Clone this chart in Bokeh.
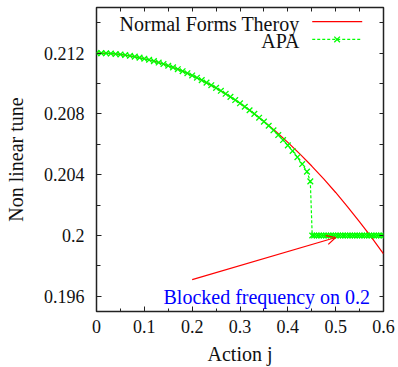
from bokeh.plotting import figure
from bokeh.models import (Range1d, LinearAxis, FixedTicker, Arrow, OpenHead,
                          Label, CustomJSTickFormatter)
from bokeh.embed import file_html
from bokeh.resources import INLINE

# Normal forms theory: tune vs action
action_nf = [0.0, 0.025, 0.05, 0.075, 0.1, 0.125, 0.15, 0.175, 0.2, 0.225,
             0.25, 0.275, 0.3, 0.325, 0.35, 0.375, 0.4, 0.425, 0.45, 0.475,
             0.5, 0.525, 0.55, 0.575, 0.6]
tune_nf = [0.21200, 0.21198, 0.21191, 0.21179, 0.21163, 0.21143, 0.21117,
           0.21088, 0.21053, 0.21014, 0.20971, 0.20923, 0.20870, 0.20812,
           0.20750, 0.20684, 0.20613, 0.20537, 0.20457, 0.20372, 0.20283,
           0.20189, 0.20090, 0.19987, 0.19879]

# APA tracking results
action_apa = [0.0, 0.01, 0.02, 0.03, 0.04, 0.05, 0.06, 0.07, 0.08, 0.09,
              0.10, 0.11, 0.12, 0.13, 0.14, 0.15, 0.16, 0.17, 0.18, 0.19,
              0.20, 0.21, 0.22, 0.23, 0.24, 0.25, 0.26, 0.27, 0.28, 0.29,
              0.30, 0.31, 0.32, 0.33, 0.34, 0.35, 0.36, 0.37, 0.38, 0.39,
              0.40, 0.41, 0.42, 0.43, 0.44, 0.447,
              0.451, 0.455, 0.46, 0.465, 0.47, 0.475, 0.48, 0.485, 0.49,
              0.495, 0.50, 0.505, 0.51, 0.515, 0.52, 0.525, 0.53, 0.535,
              0.54, 0.545, 0.55, 0.555, 0.56, 0.565, 0.57, 0.575, 0.58,
              0.585, 0.59, 0.595, 0.60]
tune_apa = [0.21200, 0.21200, 0.21199, 0.21197, 0.21194, 0.21191, 0.21187,
            0.21182, 0.21177, 0.21170, 0.21163, 0.21156, 0.21147, 0.21138,
            0.21128, 0.21117, 0.21106, 0.21094, 0.21081, 0.21068, 0.21053,
            0.21038, 0.21022, 0.21006, 0.20989, 0.20971, 0.20952, 0.20932,
            0.20912, 0.20891, 0.20870, 0.20847, 0.20824, 0.20800, 0.20775,
            0.20749, 0.20722, 0.20692, 0.20661, 0.20628, 0.20593, 0.20556,
            0.20515, 0.20470, 0.20420, 0.20356,
            0.2, 0.2, 0.2, 0.2, 0.2, 0.2, 0.2, 0.2, 0.2, 0.2, 0.2, 0.2,
            0.2, 0.2, 0.2, 0.2, 0.2, 0.2, 0.2, 0.2, 0.2, 0.2, 0.2, 0.2,
            0.2, 0.2, 0.2, 0.2, 0.2, 0.2, 0.2]

x_ticks = [0.0, 0.1, 0.2, 0.3, 0.4, 0.5, 0.6]
x_minor = [0.05, 0.15, 0.25, 0.35, 0.45, 0.55]
y_ticks = [0.196, 0.200, 0.204, 0.208, 0.212]
y_minor = [0.198, 0.202, 0.206, 0.210, 0.214]

FONT = "Liberation Serif"
RED = "#ff0000"
GREEN = "#00ff00"
INK = "#222222"

p = figure(width=398, height=367, output_backend="svg", toolbar_location=None,
           x_range=Range1d(0, 0.6), y_range=Range1d(0.195, 0.215),
           min_border_left=96, min_border_right=15, min_border_top=7,
           min_border_bottom=55)
p.grid.visible = False
p.outline_line_color = INK
p.outline_line_width = 1.5
p.background_fill_color = "white"
p.border_fill_color = "white"

label_fmt = CustomJSTickFormatter(code="""
    const s = tick.toFixed(3);
    return s.replace(/0+$/, '').replace(/\\.$/, '');
""")


def tick_style(ax):
    ax.axis_line_color = None
    ax.major_tick_out = 0
    ax.minor_tick_out = 0
    ax.major_tick_line_color = INK
    ax.minor_tick_line_color = INK


# labelled axes (bottom, left)
xa = p.xaxis[0]
ya = p.yaxis[0]
for ax in (xa, ya):
    tick_style(ax)
    ax.formatter = label_fmt
    ax.major_label_text_font = FONT
    ax.major_label_text_font_size = "18px"
    ax.major_label_text_color = "#111111"
    ax.axis_label_text_font = FONT
    ax.axis_label_text_font_size = "20px"
    ax.axis_label_text_font_style = "normal"
    ax.axis_label_text_color = "#111111"
    ax.major_tick_in = 5
xa.ticker = FixedTicker(ticks=x_ticks, minor_ticks=x_minor)
xa.minor_tick_in = 3
ya.ticker = FixedTicker(ticks=y_ticks, minor_ticks=y_minor)
ya.minor_tick_in = 4
xa.axis_label = "Action j"
ya.axis_label = "Non linear tune"
xa.major_label_standoff = 8
xa.axis_label_standoff = 7
ya.major_label_standoff = 12
ya.axis_label_standoff = 14

# mirrored tick marks (no labels) on the top and right edges
top = LinearAxis(ticker=FixedTicker(ticks=[], minor_ticks=x_ticks + x_minor))
tick_style(top)
top.minor_tick_in = 4
p.add_layout(top, "above")
right = LinearAxis(ticker=FixedTicker(ticks=[], minor_ticks=y_ticks + y_minor))
tick_style(right)
right.minor_tick_in = 4
p.add_layout(right, "right")

# curves
p.line(action_nf, tune_nf, line_color=RED, line_width=1.2)
p.line(action_apa, tune_apa, line_color=GREEN, line_width=1.2, line_dash="3 2")
p.scatter(action_apa, tune_apa, marker="x", size=8, line_color=GREEN,
          line_width=1.3)

# key in the upper right corner
key_x0, key_x1, key_xt = 0.451, 0.5555, 0.4244
p.segment([key_x0], [0.21407], [key_x1], [0.21407], line_color=RED,
          line_width=1.2)
p.segment([key_x0], [0.21290], [key_x1], [0.21290], line_color=GREEN,
          line_width=1.2, line_dash="3 2")
p.scatter([0.503], [0.21290], marker="x", size=8, line_color=GREEN,
          line_width=1.3)
for txt, yy in (("Normal Forms Theroy", 0.21390), ("APA", 0.21278)):
    p.add_layout(Label(x=key_xt, y=yy, text=txt, text_align="right",
                       text_baseline="alphabetic", text_font=FONT,
                       text_font_size="20px", text_color="#111111"))

# annotation of the blocked frequency
p.add_layout(Arrow(x_start=0.2, y_start=0.1971, x_end=0.5, y_end=0.19987,
                   line_color=RED, line_width=1.2,
                   end=OpenHead(size=9, line_color=RED, line_width=1.2)))
p.add_layout(Label(x=0.1401, y=0.19596, text="Blocked frequency on 0.2",
                   text_baseline="alphabetic", text_font=FONT,
                   text_font_size="20px", text_color="#0000ff"))

open("out.html", "w").write(file_html(p, INLINE))
